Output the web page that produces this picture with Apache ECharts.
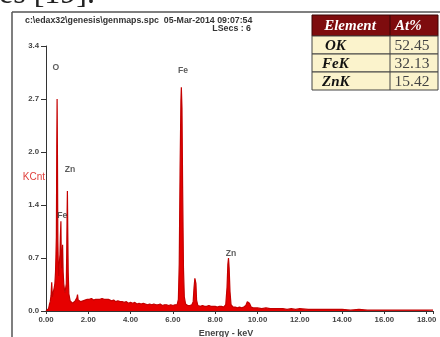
<!DOCTYPE html>
<html><head><meta charset="utf-8">
<script src="https://cdn.jsdelivr.net/npm/echarts@6/dist/echarts.min.js"></script>
<style>html,body{margin:0;padding:0;background:#fff;overflow:hidden}#c{width:440px;height:337px}</style>
</head><body><div id="c"></div>
<script>
// ---- data ----
const energyKeV = [
 0.00,0.08,0.12,0.16,0.20,0.24,0.27,0.30,0.33,0.36,0.39,0.42,0.45,0.47,0.49,0.51,0.525,0.54,0.56,0.58,
 0.60,0.62,0.64,0.66,0.68,0.705,0.72,0.74,0.76,0.785,0.81,0.84,0.87,0.90,0.93,0.96,0.98,1.00,1.012,1.03,
 1.05,1.08,1.10,1.14,1.18,1.22,1.26,1.30,1.34,1.38,1.42,1.46,1.49,1.52,1.56,1.60,1.65,1.70,1.75,1.80,
 1.85,1.90,1.95,2.00,2.05,2.10,2.15,2.20,2.25,2.30,2.35,2.40,2.45,2.50,2.55,2.60,2.65,2.70,2.75,2.80,
 2.85,2.90,2.95,3.00,3.10,3.20,3.30,3.40,3.50,3.60,3.70,3.80,3.90,4.00,4.10,4.20,4.30,4.40,4.50,4.60,
 4.70,4.80,4.90,5.00,5.10,5.20,5.30,5.40,5.50,5.60,5.70,5.80,5.90,6.00,6.10,6.20,6.26,6.30,6.34,6.38,
 6.40,6.43,6.46,6.50,6.54,6.60,6.70,6.80,6.90,6.96,7.00,7.04,7.06,7.09,7.12,7.18,7.30,7.40,7.50,7.60,
 7.70,7.80,7.90,8.00,8.10,8.20,8.30,8.40,8.50,8.56,8.60,8.63,8.66,8.70,8.75,8.85,8.95,9.05,9.15,9.25,
 9.35,9.45,9.52,9.57,9.62,9.70,9.80,9.90,10.0,10.2,10.4,10.6,10.8,11.0,11.2,11.4,11.6,11.8,12.0,12.4,
 12.8,13.2,13.6,14.0,14.4,14.8,15.2,15.6,16.0,16.4,16.8,17.2,17.6,18.0,18.3
];
const kcnt = [
 0.00,0.00,0.03,0.08,0.12,0.20,0.37,0.18,0.22,0.26,0.30,0.35,0.50,0.70,0.95,2.10,2.72,2.05,0.90,0.60,
 0.45,0.55,0.65,0.72,0.95,1.15,0.70,0.55,0.70,0.85,0.50,0.35,0.28,0.24,0.25,0.35,0.75,1.30,1.54,1.00,
 0.50,0.22,0.20,0.13,0.11,0.12,0.10,0.12,0.11,0.13,0.12,0.17,0.21,0.14,0.12,0.13,0.12,0.14,0.13,0.13,
 0.14,0.13,0.15,0.14,0.15,0.14,0.16,0.15,0.14,0.16,0.15,0.16,0.15,0.16,0.15,0.17,0.16,0.16,0.15,0.16,
 0.15,0.14,0.15,0.14,0.13,0.14,0.12,0.13,0.12,0.12,0.11,0.12,0.10,0.11,0.10,0.11,0.09,0.10,0.09,0.10,
 0.09,0.08,0.09,0.08,0.09,0.08,0.08,0.09,0.07,0.08,0.08,0.07,0.08,0.07,0.08,0.08,0.15,0.60,1.80,2.70,
 2.87,2.60,1.60,0.55,0.18,0.09,0.07,0.07,0.08,0.12,0.30,0.42,0.44,0.35,0.14,0.07,0.06,0.07,0.06,0.06,
 0.07,0.06,0.06,0.06,0.05,0.06,0.06,0.05,0.08,0.30,0.60,0.68,0.55,0.25,0.08,0.05,0.05,0.04,0.05,0.04,
 0.05,0.07,0.12,0.13,0.10,0.05,0.04,0.04,0.04,0.03,0.04,0.03,0.03,0.03,0.03,0.02,0.03,0.02,0.03,0.02,
 0.02,0.02,0.02,0.02,0.01,0.02,0.01,0.01,0.01,0.01,0.01,0.01,0.01,0.01,0.01
];
const yTickLabels = ['0.0','0.7','1.4','2.0','2.7','3.4'];
const xTickLabels = ['0.00','2.00','4.00','6.00','8.00','10.00','12.00','14.00','16.00','18.00'];
const peakNames = ['O','Fe','Zn','Fe','Zn'];
const peakLabelKeV = [0.46, 6.48, 1.13, 0.77, 8.75];
const peakLabelKCnt = [3.12, 3.08, 1.82, 1.23, 0.73];
const tableHeader = ['Element','At%'];
const tableElements = ['OK','FeK','ZnK'];
const tableAtPct = ['52.45','32.13','15.42'];
const headerText = 'c:\\edax32\\genesis\\genmaps.spc  05-Mar-2014 09:07:54';
const lsecsText = 'LSecs : 6';
const yAxisName = 'KCnt';
const xAxisName = 'Energy - keV';
const captionText = 'es [19].';

// ---- build ----
const spectrum = energyKeV.map((e, i) => [e, kcnt[i]]);
const peakData = peakNames.map((n, i) => ({name: n, value: [peakLabelKeV[i], peakLabelKCnt[i]]}));

const tblX = 312, tblW = 126, colX = 390, tblTop = 15, hdrH = 21, rowH = 18;
const graphics = [
  {type: 'line', shape: {x1: 12, y1: 12, x2: 440, y2: 12}, style: {stroke: '#555', lineWidth: 1.5}, silent: true},
  {type: 'line', shape: {x1: 12, y1: 12, x2: 12, y2: 337}, style: {stroke: '#555', lineWidth: 1.5}, silent: true},
  {type: 'text', x: -1, y: -5, style: {text: captionText, font: '32px "Liberation Serif"', fill: '#222', verticalAlign: 'middle'}},
  {type: 'text', x: 25, y: 20.5, style: {text: headerText, font: 'bold 8.8px "Liberation Sans"', fill: '#333', verticalAlign: 'middle'}},
  {type: 'text', x: 251, y: 29, style: {text: lsecsText, font: 'bold 8.8px "Liberation Sans"', fill: '#333', align: 'right', verticalAlign: 'middle'}},
  {type: 'text', x: 45, y: 177, style: {text: yAxisName, font: '10px "Liberation Sans"', fill: '#e0403c', align: 'right', verticalAlign: 'middle'}},
  {type: 'rect', shape: {x: tblX, y: tblTop, width: tblW, height: hdrH}, style: {fill: '#7e0c0e', stroke: '#3a0505', lineWidth: 1}},
  {type: 'text', x: (tblX + colX) / 2 - 1, y: tblTop + hdrH / 2 + 1, style: {text: tableHeader[0], font: 'italic bold 15px "Liberation Serif"', fill: '#fff', align: 'center', verticalAlign: 'middle'}},
  {type: 'text', x: colX + 5, y: tblTop + hdrH / 2 + 1, style: {text: tableHeader[1], font: 'italic bold 15px "Liberation Serif"', fill: '#fff', verticalAlign: 'middle'}},
  {type: 'line', shape: {x1: colX, y1: tblTop, x2: colX, y2: tblTop + hdrH}, style: {stroke: '#3a0505', lineWidth: 1}}
];
tableElements.forEach((el, i) => {
  const y = tblTop + hdrH + i * rowH;
  graphics.push({type: 'rect', shape: {x: tblX, y: y, width: tblW, height: rowH}, style: {fill: '#fbf3cc', stroke: '#444', lineWidth: 1}});
  graphics.push({type: 'line', shape: {x1: colX, y1: y, x2: colX, y2: y + rowH}, style: {stroke: '#444', lineWidth: 1}});
  graphics.push({type: 'text', x: tblX + 10 + (i === 0 ? 3 : 0), y: y + rowH / 2 + 1, style: {text: el, font: 'italic bold 15px "Liberation Serif"', fill: '#111', verticalAlign: 'middle'}});
  graphics.push({type: 'text', x: (colX + tblX + tblW) / 2 - 2, y: y + rowH / 2 + 1, style: {text: tableAtPct[i], font: '15.5px "Liberation Serif"', fill: '#444', align: 'center', verticalAlign: 'middle'}});
});

const chart = echarts.init(document.getElementById('c'), null, {renderer: 'canvas'});
const axisTxt = {color: '#444', fontSize: 7.8, fontWeight: 'bold', fontFamily: 'Liberation Sans'};
chart.setOption({
  animation: false,
  backgroundColor: '#fff',
  grid: {left: 46, right: 7, top: 46, bottom: 26, containLabel: false, outerBoundsMode: 'none'},
  xAxis: {
    type: 'value', min: 0, max: 18.3, interval: 2,
    name: xAxisName, nameLocation: 'middle', nameGap: 14,
    nameTextStyle: {color: '#444', fontSize: 9, fontWeight: 'bold', fontFamily: 'Liberation Sans', padding: [0, 27, 0, 0]},
    axisLine: {show: true, onZero: false, lineStyle: {color: '#333', width: 1}},
    axisTick: {show: true, length: 3, lineStyle: {color: '#333'}},
    axisLabel: Object.assign({}, axisTxt, {margin: 5, hideOverlap: false, showMaxLabel: true,
      formatter: v => { const k = Math.round(v / 2); return Math.abs(v - k * 2) < 1e-6 ? (xTickLabels[k] || '') : ''; }}),
    splitLine: {show: false}
  },
  yAxis: {
    type: 'value', min: 0, max: 3.4, interval: 0.68,
    axisLine: {show: true, lineStyle: {color: '#333', width: 1}},
    axisTick: {show: true, length: 5, lineStyle: {color: '#333'}},
    axisLabel: Object.assign({}, axisTxt, {margin: 7, hideOverlap: false,
      formatter: (v, i) => { const k = Math.round(v / 0.68); return yTickLabels[k] || ''; }}),
    splitLine: {show: false}
  },
  graphic: graphics,
  series: [
    {
      type: 'line', data: spectrum, showSymbol: false, symbol: 'none', smooth: false, sampling: null,
      lineStyle: {color: '#c40000', width: 1.2},
      areaStyle: {color: '#e60000', opacity: 1},
      z: 2
    },
    {
      type: 'scatter', data: peakData, symbolSize: 0, z: 5,
      label: {show: true, position: 'inside', formatter: p => p.name, color: '#333', fontSize: 8.6, fontWeight: 'bold', fontFamily: 'Liberation Sans'}
    }
  ]
});
</script>
</body></html>
